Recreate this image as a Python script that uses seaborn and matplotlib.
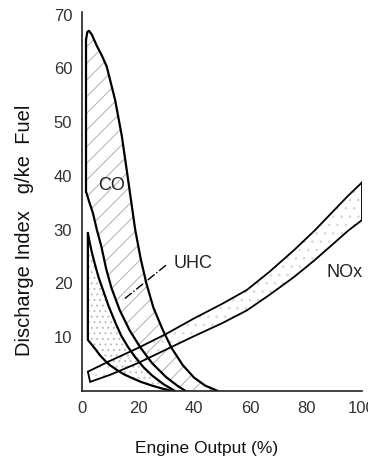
import numpy as np
import pandas as pd
import matplotlib
matplotlib.use("Agg")
import matplotlib.pyplot as plt
import seaborn as sns

# ---- curve data (engine output %, discharge index g/kg fuel) ----
co_outer_x = [1.5, 1.9, 2.5, 3.5, 5.2, 7, 8.8, 11.8, 14.2, 16, 17.5, 19, 21, 23, 25.5, 28.9, 32, 36, 40, 44, 48.5]
co_outer_y = [65.5, 66.8, 67, 66.3, 64.3, 62.5, 60.4, 54.2, 47.5, 41, 35.5, 30, 24.5, 20, 15.5, 11.3, 8, 4.8, 2.5, 1, 0]

co_inner_x = [1.5, 2.5, 3.9, 5.3, 6.9, 8.6, 10.5, 13.5, 17, 20.7, 25, 30, 34, 37]
co_inner_y = [37, 35.3, 33.1, 30, 26.9, 22.8, 19.2, 15, 11.3, 8.2, 5.2, 2.6, 1, 0]

uhc_upper_x = [2.1, 2.8, 3.6, 4.5, 6, 7.5, 9.5, 12, 14, 16.4, 19, 22, 25, 29, 33.2]
uhc_upper_y = [29.4, 27.5, 25.6, 23.8, 21, 18.8, 15.8, 12.6, 10.3, 8.2, 6.3, 4.4, 2.9, 1.3, 0]

uhc_lower_x = [2.1, 2.1, 3.2, 4.6, 6.5, 8.5, 10, 12.5, 15, 17.5, 21, 25, 29, 32]
uhc_lower_y = [29.4, 9.5, 8.8, 7.9, 6.6, 5.5, 4.8, 3.9, 3.1, 2.5, 1.7, 1.0, 0.4, 0]

nox_upper_x = [2.1, 10, 20, 30, 40, 50, 58.9, 67, 75.7, 83, 90, 95, 100]
nox_upper_y = [3.6, 5.6, 8.0, 10.6, 13.5, 16.2, 18.8, 22.2, 26.2, 29.8, 33.6, 36.3, 38.8]

nox_lower_x = [2.9, 10, 20, 30, 40, 50, 58.9, 67, 75.7, 83, 90, 95, 100]
nox_lower_y = [1.7, 3.0, 5.2, 7.7, 10.2, 12.6, 15.0, 17.9, 21.2, 24.3, 27.5, 29.8, 31.8]

x_ticks = [0, 20, 40, 60, 80, 100]
y_ticks = [10, 20, 30, 40, 50, 60, 70]

sns.set_theme(style="white")
plt.rcParams['font.family'] = ['Liberation Sans', 'DejaVu Sans']
plt.rcParams['hatch.linewidth'] = 0.7

fig = plt.figure(figsize=(3.68, 4.59), dpi=100)
ax = fig.add_axes([82 / 368, 68 / 459, 280 / 368, 379 / 459])

LINE = dict(color='black', linewidth=1.6, sort=False, estimator=None, ax=ax, legend=False)

# hatched / dotted fills
ax.fill(co_outer_x + co_inner_x[::-1], co_outer_y + co_inner_y[::-1],
        facecolor='none', edgecolor='#b0b0b0', hatch='//', linewidth=0)
ax.fill(uhc_upper_x + uhc_lower_x[::-1], uhc_upper_y + uhc_lower_y[::-1],
        facecolor='none', edgecolor='#bcbcbc', hatch='...', linewidth=0)
ax.fill(nox_upper_x + nox_lower_x[::-1], nox_upper_y + nox_lower_y[::-1],
        facecolor='none', edgecolor='#dadada', hatch='..', linewidth=0)

# curves
sns.lineplot(x=co_outer_x, y=co_outer_y, **LINE)
sns.lineplot(x=[co_inner_x[0], co_outer_x[0]], y=[co_inner_y[0], co_outer_y[0]], **LINE)
sns.lineplot(x=co_inner_x, y=co_inner_y, **LINE)
sns.lineplot(x=uhc_upper_x, y=uhc_upper_y, **LINE)
sns.lineplot(x=uhc_lower_x, y=uhc_lower_y, **LINE)

NOX = dict(LINE, linewidth=1.3)
sns.lineplot(x=nox_upper_x, y=nox_upper_y, **NOX)
sns.lineplot(x=nox_lower_x, y=nox_lower_y, **NOX)
sns.lineplot(x=[nox_lower_x[-1], nox_upper_x[-1]], y=[nox_lower_y[-1], nox_upper_y[-1]], **NOX)
sns.lineplot(x=[nox_lower_x[0], nox_upper_x[0]], y=[nox_lower_y[0], nox_upper_y[0]], **NOX)

# labels on the curves
ax.text(10.7, 38.3, 'CO', fontsize=13, ha='center', va='center', color='#222222')
ax.text(39.6, 23.8, 'UHC', fontsize=13, ha='center', va='center', color='#222222')
ax.text(93.9, 22.0, 'NOx', fontsize=13, ha='center', va='center', color='#222222')
ax.plot([30, 14.6], [23.4, 16.9], color='black', linewidth=1.0, linestyle='-.')

ax.set_xlim(0, 100)
ax.set_ylim(0, 70.5)
ax.set_xticks(x_ticks)
ax.set_yticks(y_ticks)
ax.tick_params(axis='both', direction='in', length=4, width=1, colors='#222222',
               labelsize=12, labelcolor='#333333', pad=7)
for side in ['top', 'right']:
    ax.spines[side].set_visible(False)
for side in ['left', 'bottom']:
    ax.spines[side].set_color('#222222')
    ax.spines[side].set_linewidth(1.2)
    ax.spines[side].set_linestyle((0, (4, 1)))

ax.set_xlabel('Engine Output (%)', fontsize=12.5, color='#111111', va='center')
ax.xaxis.set_label_coords((207 - 82) / 280, -(449 - 391) / 379)
ax.set_ylabel('Discharge Index   g/ke  Fuel', fontsize=14.5, color='#111111', va='center')
ax.yaxis.set_label_coords((25 - 82) / 280, (391 - 230) / 379)

fig.savefig('out.png', dpi=100)
